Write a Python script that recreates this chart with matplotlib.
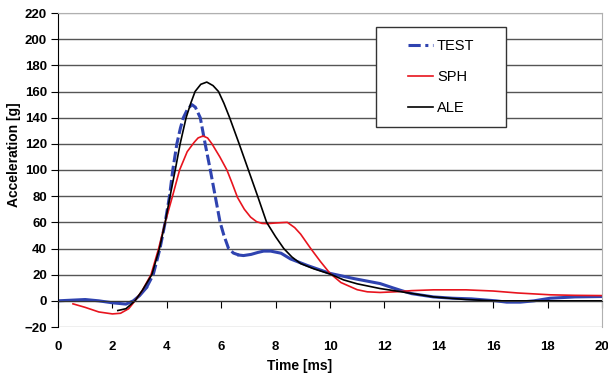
import numpy as np
import matplotlib.pyplot as plt
from matplotlib.patches import Rectangle

plt.rcParams['font.family'] = ['Liberation Sans', 'DejaVu Sans']

# TEST (measured)
t_test = [0, 0.5, 1.0, 1.5, 2.0, 2.5, 2.77, 3.0, 3.25, 3.5, 3.75, 3.94, 4.1, 4.22, 4.37,
          4.5, 4.61, 4.75, 4.92, 5.05, 5.23, 5.41, 5.6, 5.78, 5.96, 6.1, 6.27, 6.45, 6.65,
          6.82, 7.1, 7.35, 7.56, 7.82, 8.2, 8.55, 9.17, 10.0, 10.88, 11.84, 12.3, 12.6,
          13.0, 13.8, 14.5, 15.2, 16.1, 16.5, 17.0, 17.5, 18.1, 19.0, 20.0]
a_test = [0, 0.5, 1, 0, -1.5, -2.5, 0, 4, 10, 20, 40, 60, 80, 100, 120,
          132, 140, 146, 150, 148, 140, 120, 100, 80, 60, 50, 40, 36.5, 35,
          34.6, 35.5, 37, 38, 38, 36.4, 32, 27, 21, 17, 13.2, 10, 8,
          5.5, 3, 2, 1.5, 0, -1, -1, 0, 2, 3, 3.3]

# SPH
t_sph = [0.55, 1.0, 1.5, 2.0, 2.3, 2.6, 2.83, 3.1, 3.42, 3.7, 3.94, 4.21, 4.47, 4.75,
         5.0, 5.15, 5.33, 5.5, 5.66, 5.95, 6.21, 6.4, 6.6, 6.85, 7.08, 7.3, 7.5, 7.69,
         8.0, 8.43, 8.7, 8.92, 9.29, 9.65, 10.0, 10.4, 10.76, 11.0, 11.37, 11.84, 12.5,
         13.0, 13.8, 15.0, 16.0, 16.9, 18.1, 19.0, 20.0]
a_sph = [-2.3, -5, -8.5, -10, -9.5, -6, 0, 8, 20, 40, 60, 80, 100, 114,
         121, 124.5, 126, 124.5, 120, 110, 100, 90, 79, 70, 64, 60.5, 59.2, 59,
         59.5, 60, 56, 51, 40, 30, 21, 14, 10.7, 8.5, 6.9, 6.4, 7,
         7.8, 8.4, 8.4, 7.5, 6, 4.6, 4.2, 4]

# ALE
t_ale = [2.2, 2.5, 2.83, 3.1, 3.45, 3.73, 3.94, 4.12, 4.31, 4.49, 4.71, 4.88, 5.04, 5.25,
         5.47, 5.7, 5.9, 6.1, 6.31, 6.66, 7.0, 7.34, 7.67, 8.0, 8.3, 8.6, 8.92, 9.4,
         10.0, 10.5, 11.0, 11.84, 12.6, 13.8, 15.0, 16.0, 18.0, 20.0]
a_ale = [-7.4, -6, 0, 8, 20, 40, 60, 80, 100, 120, 140, 151, 160, 165.5,
         167.2, 164.5, 160, 151, 140, 120, 100, 80, 60, 49, 40, 33.5, 28.5, 24.5,
         20.5, 16, 13, 9.4, 7, 3, 1, 0, 0, 0]

fig = plt.figure(figsize=(6.08, 3.78), dpi=100)
ax = fig.add_axes([58/608, 1-327/378, 544/608, 314/378])

ax.set_xlim(0, 20)
ax.set_ylim(-20, 220)
ax.set_xticks(np.arange(0, 21, 2))
ax.set_yticks(np.arange(-20, 221, 20))

ax.grid(axis='y', color='#555555', lw=1.0)
ax.set_axisbelow(True)
gl = ax.yaxis.get_gridlines()
gl[0].set_color('#b0b0b0')
gl[-1].set_color('#b0b0b0')

for s in ['top', 'right']:
    ax.spines[s].set_color('#b0b0b0')
ax.spines['bottom'].set_position(('data', 0))
ax.spines['bottom'].set_color('#333333')
ax.spines['left'].set_color('black')

ax.tick_params(axis='y', length=5, pad=3, labelsize=9.5)
ax.tick_params(axis='x', length=5, pad=24, labelsize=9.5, direction='out')
for lab in ax.get_xticklabels() + ax.get_yticklabels():
    lab.set_fontweight('bold')

blue = '#2f43b0'
tt = np.array(t_test)
at = np.array(a_test)
m1 = tt <= 3.25
m2 = (tt >= 3.25) & (tt <= 6.65)
m3 = tt >= 6.65
ax.plot(tt[m1], at[m1], color=blue, lw=2.2, solid_joinstyle='round')
ax.plot(tt[m2], at[m2], color=blue, lw=2.2, dashes=(3.5, 1.2))
ax.plot(tt[m3], at[m3], color=blue, lw=2.2, solid_joinstyle='round')
ax.plot(t_sph, a_sph, color='#e8141e', lw=1.2)
ax.plot(t_ale, a_ale, color='black', lw=1.2)

# legend
ax.add_patch(Rectangle((0.585, 0.637), 0.239, 0.318, transform=ax.transAxes,
                       facecolor='white', edgecolor='#333333', lw=1.0, zorder=5))
h1, = ax.plot([], [], color=blue, lw=2.2, dashes=(4, 1.5, 1, 1.5))
h2, = ax.plot([], [], color='#e8141e', lw=1.2)
h3, = ax.plot([], [], color='black', lw=1.2)
leg = ax.legend([h1, h2, h3], ['TEST', 'SPH', 'ALE'], loc='center',
                bbox_to_anchor=(0.585 + 0.239/2, 0.637 + 0.318/2), frameon=False,
                fontsize=10.5, handlelength=1.7, handletextpad=0.3, labelspacing=1.15)
leg.set_zorder(6)

fig.text(300/608, 1-366/378, 'Time [ms]', ha='center', va='center',
         fontsize=10, fontweight='bold')
fig.text(14/608, 1-155/378, 'Acceleration [g]', ha='center', va='center',
         fontsize=10, fontweight='bold', rotation=90)

fig.savefig('out.png', dpi=100)
